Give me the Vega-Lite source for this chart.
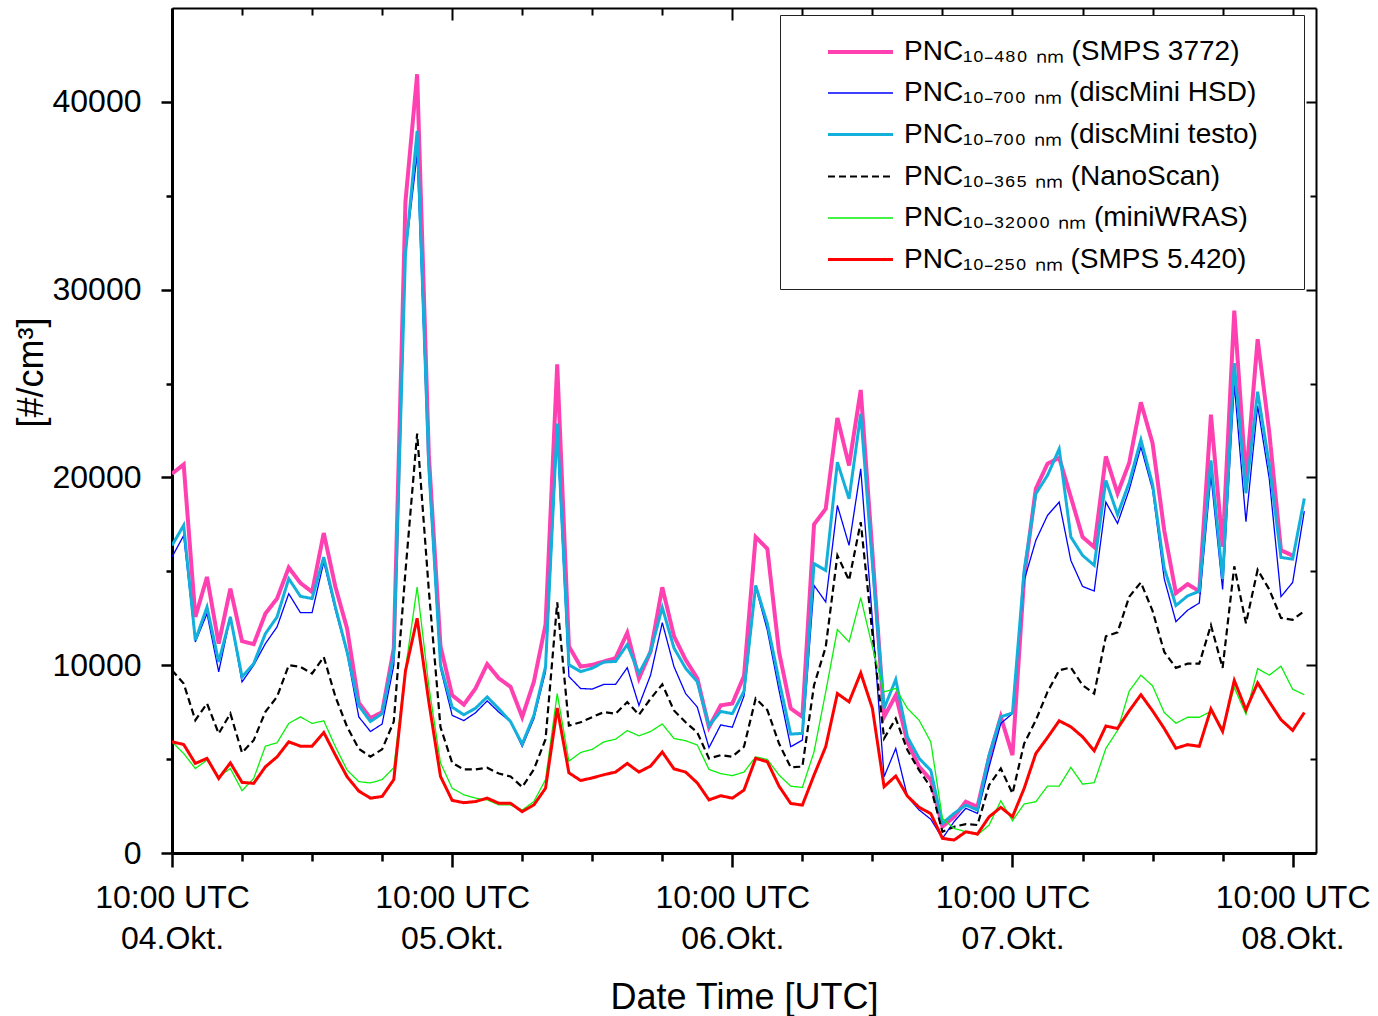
{
  "$schema": "https://vega.github.io/schema/vega-lite/v6.json",
  "width": 1144,
  "height": 845,
  "autosize": {"type": "none"},
  "padding": {"left": 172, "top": 8, "right": 62, "bottom": 163},
  "background": "white",
  "config": {
    "font": "Liberation Sans",
    "view": {"stroke": null},
    "axis": {
      "labelFont": "Liberation Sans",
      "labelFontSize": 32,
      "labelColor": "black",
      "titleFont": "Liberation Sans",
      "titleFontSize": 36,
      "titleFontWeight": "normal",
      "titleColor": "black",
      "domainColor": "black",
      "tickColor": "black",
      "grid": false,
      "labelOverlap": false,
      "labelFlush": false,
      "labelBound": false
    },
    "legend": {
      "orient": "none",
      "legendX": 608,
      "legendY": 7,
      "title": null,
      "symbolType": "M-1.625,0L1.625,0",
      "symbolSize": 1600,
      "labelFont": "Liberation Sans",
      "labelFontSize": 28,
      "labelColor": "black",
      "labelLimit": 700,
      "strokeColor": "#222222",
      "fillColor": "white",
      "padding": 15,
      "symbolOffset": 43.5,
      "labelOffset": 21.5,
      "rowPadding": 6
    }
  },
  "data": {
    "values": [
      {"t": "2019-10-04T10:00:00Z", "smps3772": 20200, "hsd": 15760, "testo": 16380, "nano": 9730, "wras": 5920, "smps5420": 5920},
      {"t": "2019-10-04T11:00:00Z", "smps3772": 20690, "hsd": 16910, "testo": 17450, "nano": 9020, "wras": 5300, "smps5420": 5780},
      {"t": "2019-10-04T12:00:00Z", "smps3772": 12570, "hsd": 11240, "testo": 11330, "nano": 7070, "wras": 4500, "smps5420": 4770},
      {"t": "2019-10-04T13:00:00Z", "smps3772": 14700, "hsd": 12750, "testo": 13100, "nano": 7960, "wras": 4950, "smps5420": 5040},
      {"t": "2019-10-04T14:00:00Z", "smps3772": 11150, "hsd": 9650, "testo": 10180, "nano": 6360, "wras": 4060, "smps5420": 3970},
      {"t": "2019-10-04T15:00:00Z", "smps3772": 14080, "hsd": 12570, "testo": 12570, "nano": 7430, "wras": 4500, "smps5420": 4800},
      {"t": "2019-10-04T16:00:00Z", "smps3772": 11280, "hsd": 9110, "testo": 9380, "nano": 5340, "wras": 3320, "smps5420": 3760},
      {"t": "2019-10-04T17:00:00Z", "smps3772": 11120, "hsd": 10000, "testo": 10090, "nano": 6010, "wras": 3970, "smps5420": 3710},
      {"t": "2019-10-04T18:00:00Z", "smps3772": 12750, "hsd": 11150, "testo": 11680, "nano": 7520, "wras": 5690, "smps5420": 4590},
      {"t": "2019-10-04T19:00:00Z", "smps3772": 13550, "hsd": 12040, "testo": 12570, "nano": 8320, "wras": 5870, "smps5420": 5120},
      {"t": "2019-10-04T20:00:00Z", "smps3772": 15200, "hsd": 13810, "testo": 14610, "nano": 10000, "wras": 6900, "smps5420": 5920},
      {"t": "2019-10-04T21:00:00Z", "smps3772": 14380, "hsd": 12800, "testo": 13670, "nano": 9910, "wras": 7250, "smps5420": 5690},
      {"t": "2019-10-04T22:00:00Z", "smps3772": 13900, "hsd": 12800, "testo": 13550, "nano": 9560, "wras": 6900, "smps5420": 5690},
      {"t": "2019-10-04T23:00:00Z", "smps3772": 17040, "hsd": 15500, "testo": 15760, "nano": 10440, "wras": 7040, "smps5420": 6420},
      {"t": "2019-10-05T00:00:00Z", "smps3772": 14170, "hsd": 12930, "testo": 13100, "nano": 8320, "wras": 5660, "smps5420": 5210},
      {"t": "2019-10-05T01:00:00Z", "smps3772": 11950, "hsd": 10620, "testo": 10710, "nano": 6720, "wras": 4420, "smps5420": 4060},
      {"t": "2019-10-05T02:00:00Z", "smps3772": 8000, "hsd": 7250, "testo": 7850, "nano": 5550, "wras": 3800, "smps5420": 3300},
      {"t": "2019-10-05T03:00:00Z", "smps3772": 7180, "hsd": 6470, "testo": 7000, "nano": 5130, "wras": 3730, "smps5420": 2920},
      {"t": "2019-10-05T04:00:00Z", "smps3772": 7500, "hsd": 6870, "testo": 7420, "nano": 5520, "wras": 3910, "smps5420": 3010},
      {"t": "2019-10-05T05:00:00Z", "smps3772": 10900, "hsd": 10000, "testo": 10600, "nano": 7000, "wras": 4540, "smps5420": 3910},
      {"t": "2019-10-05T06:00:00Z", "smps3772": 34700, "hsd": 31900, "testo": 31900, "nano": 15000, "wras": 9800, "smps5420": 9700},
      {"t": "2019-10-05T07:00:00Z", "smps3772": 41470, "hsd": 37230, "testo": 38460, "nano": 22340, "wras": 14160, "smps5420": 12500},
      {"t": "2019-10-05T08:00:00Z", "smps3772": 21200, "hsd": 20300, "testo": 20600, "nano": 14000, "wras": 8900, "smps5420": 8050},
      {"t": "2019-10-05T09:00:00Z", "smps3772": 11010, "hsd": 9840, "testo": 10020, "nano": 6700, "wras": 4800, "smps5420": 4080},
      {"t": "2019-10-05T10:00:00Z", "smps3772": 8400, "hsd": 7330, "testo": 7770, "nano": 4800, "wras": 3450, "smps5420": 2800},
      {"t": "2019-10-05T11:00:00Z", "smps3772": 7900, "hsd": 7050, "testo": 7360, "nano": 4450, "wras": 3100, "smps5420": 2680},
      {"t": "2019-10-05T12:00:00Z", "smps3772": 8760, "hsd": 7470, "testo": 7710, "nano": 4450, "wras": 2920, "smps5420": 2740},
      {"t": "2019-10-05T13:00:00Z", "smps3772": 10060, "hsd": 8100, "testo": 8310, "nano": 4540, "wras": 2830, "smps5420": 2920},
      {"t": "2019-10-05T14:00:00Z", "smps3772": 9300, "hsd": 7500, "testo": 7680, "nano": 4230, "wras": 2560, "smps5420": 2650},
      {"t": "2019-10-05T15:00:00Z", "smps3772": 8850, "hsd": 7000, "testo": 7000, "nano": 4080, "wras": 2560, "smps5420": 2650},
      {"t": "2019-10-05T16:00:00Z", "smps3772": 7240, "hsd": 5670, "testo": 5800, "nano": 3510, "wras": 2290, "smps5420": 2200},
      {"t": "2019-10-05T17:00:00Z", "smps3772": 9120, "hsd": 7150, "testo": 7330, "nano": 4450, "wras": 2740, "smps5420": 2560},
      {"t": "2019-10-05T18:00:00Z", "smps3772": 12170, "hsd": 9660, "testo": 9930, "nano": 6060, "wras": 3910, "smps5420": 3450},
      {"t": "2019-10-05T19:00:00Z", "smps3772": 26020, "hsd": 22400, "testo": 22870, "nano": 13350, "wras": 8490, "smps5420": 7720},
      {"t": "2019-10-05T20:00:00Z", "smps3772": 11010, "hsd": 9400, "testo": 10020, "nano": 6780, "wras": 4890, "smps5420": 4270},
      {"t": "2019-10-05T21:00:00Z", "smps3772": 9930, "hsd": 8760, "testo": 9660, "nano": 6960, "wras": 5350, "smps5420": 3860},
      {"t": "2019-10-05T22:00:00Z", "smps3772": 10020, "hsd": 8730, "testo": 9840, "nano": 7240, "wras": 5520, "smps5420": 4000},
      {"t": "2019-10-05T23:00:00Z", "smps3772": 10200, "hsd": 8980, "testo": 10170, "nano": 7500, "wras": 5920, "smps5420": 4170},
      {"t": "2019-10-06T00:00:00Z", "smps3772": 10380, "hsd": 8980, "testo": 10200, "nano": 7420, "wras": 6060, "smps5420": 4310},
      {"t": "2019-10-06T01:00:00Z", "smps3772": 11730, "hsd": 9870, "testo": 11100, "nano": 8040, "wras": 6520, "smps5420": 4770},
      {"t": "2019-10-06T02:00:00Z", "smps3772": 9300, "hsd": 7860, "testo": 9570, "nano": 7360, "wras": 6240, "smps5420": 4310},
      {"t": "2019-10-06T03:00:00Z", "smps3772": 10730, "hsd": 9480, "testo": 10730, "nano": 8220, "wras": 6470, "smps5420": 4630},
      {"t": "2019-10-06T04:00:00Z", "smps3772": 14150, "hsd": 12270, "testo": 13080, "nano": 8980, "wras": 6870, "smps5420": 5380},
      {"t": "2019-10-06T05:00:00Z", "smps3772": 11550, "hsd": 9930, "testo": 10920, "nano": 7590, "wras": 6100, "smps5420": 4480},
      {"t": "2019-10-06T06:00:00Z", "smps3772": 10290, "hsd": 8490, "testo": 9840, "nano": 6960, "wras": 5980, "smps5420": 4310},
      {"t": "2019-10-06T07:00:00Z", "smps3772": 9300, "hsd": 7770, "testo": 9120, "nano": 6420, "wras": 5750, "smps5420": 3730},
      {"t": "2019-10-06T08:00:00Z", "smps3772": 6700, "hsd": 5610, "testo": 6780, "nano": 5030, "wras": 4450, "smps5420": 2830},
      {"t": "2019-10-06T09:00:00Z", "smps3772": 7860, "hsd": 6820, "testo": 7540, "nano": 5210, "wras": 4230, "smps5420": 3050},
      {"t": "2019-10-06T10:00:00Z", "smps3772": 7960, "hsd": 6700, "testo": 7420, "nano": 5130, "wras": 4120, "smps5420": 2920},
      {"t": "2019-10-06T11:00:00Z", "smps3772": 9430, "hsd": 8360, "testo": 8620, "nano": 5660, "wras": 4310, "smps5420": 3350},
      {"t": "2019-10-06T12:00:00Z", "smps3772": 16830, "hsd": 14170, "testo": 14250, "nano": 8230, "wras": 5120, "smps5420": 5040},
      {"t": "2019-10-06T13:00:00Z", "smps3772": 16200, "hsd": 11860, "testo": 12220, "nano": 7610, "wras": 4980, "smps5420": 4860},
      {"t": "2019-10-06T14:00:00Z", "smps3772": 10710, "hsd": 8670, "testo": 9200, "nano": 5830, "wras": 4150, "smps5420": 3560},
      {"t": "2019-10-06T15:00:00Z", "smps3772": 7700, "hsd": 5660, "testo": 6330, "nano": 4560, "wras": 3560, "smps5420": 2640},
      {"t": "2019-10-06T16:00:00Z", "smps3772": 7250, "hsd": 6010, "testo": 6370, "nano": 4600, "wras": 3490, "smps5420": 2550},
      {"t": "2019-10-06T17:00:00Z", "smps3772": 17500, "hsd": 14250, "testo": 15410, "nano": 8940, "wras": 5390, "smps5420": 4150},
      {"t": "2019-10-06T18:00:00Z", "smps3772": 18330, "hsd": 13370, "testo": 15050, "nano": 10970, "wras": 8580, "smps5420": 5660},
      {"t": "2019-10-06T19:00:00Z", "smps3772": 23170, "hsd": 18510, "testo": 20810, "nano": 15850, "wras": 11900, "smps5420": 8490},
      {"t": "2019-10-06T20:00:00Z", "smps3772": 20640, "hsd": 16380, "testo": 18860, "nano": 14520, "wras": 11240, "smps5420": 8050},
      {"t": "2019-10-06T21:00:00Z", "smps3772": 24660, "hsd": 20460, "testo": 23390, "nano": 17620, "wras": 13600, "smps5420": 9590},
      {"t": "2019-10-06T22:00:00Z", "smps3772": 16000, "hsd": 12400, "testo": 15400, "nano": 11700, "wras": 10970, "smps5420": 7700},
      {"t": "2019-10-06T23:00:00Z", "smps3772": 7250, "hsd": 4060, "testo": 7700, "nano": 6100, "wras": 8580, "smps5420": 3530},
      {"t": "2019-10-07T00:00:00Z", "smps3772": 8400, "hsd": 5570, "testo": 9240, "nano": 7160, "wras": 8760, "smps5420": 4100},
      {"t": "2019-10-07T01:00:00Z", "smps3772": 5920, "hsd": 3000, "testo": 6190, "nano": 5480, "wras": 7700, "smps5420": 3030},
      {"t": "2019-10-07T02:00:00Z", "smps3772": 4590, "hsd": 2290, "testo": 5040, "nano": 4410, "wras": 7070, "smps5420": 2430},
      {"t": "2019-10-07T03:00:00Z", "smps3772": 3900, "hsd": 1800, "testo": 4400, "nano": 3500, "wras": 5920, "smps5420": 2100},
      {"t": "2019-10-07T04:00:00Z", "smps3772": 1400, "hsd": 780, "testo": 1580, "nano": 1130, "wras": 1840, "smps5420": 780},
      {"t": "2019-10-07T05:00:00Z", "smps3772": 1930, "hsd": 1670, "testo": 2110, "nano": 1400, "wras": 1310, "smps5420": 690},
      {"t": "2019-10-07T06:00:00Z", "smps3772": 2730, "hsd": 2380, "testo": 2550, "nano": 1540, "wras": 1130, "smps5420": 1130},
      {"t": "2019-10-07T07:00:00Z", "smps3772": 2460, "hsd": 2110, "testo": 2290, "nano": 1490, "wras": 960, "smps5420": 1010},
      {"t": "2019-10-07T08:00:00Z", "smps3772": 5120, "hsd": 4590, "testo": 5210, "nano": 3620, "wras": 1490, "smps5420": 1930},
      {"t": "2019-10-07T09:00:00Z", "smps3772": 7250, "hsd": 6900, "testo": 7250, "nano": 4500, "wras": 2780, "smps5420": 2430},
      {"t": "2019-10-07T10:00:00Z", "smps3772": 5210, "hsd": 7430, "testo": 7460, "nano": 3170, "wras": 1720, "smps5420": 1930},
      {"t": "2019-10-07T11:00:00Z", "smps3772": 14700, "hsd": 14520, "testo": 15050, "nano": 5830, "wras": 2610, "smps5420": 3440},
      {"t": "2019-10-07T12:00:00Z", "smps3772": 19400, "hsd": 16650, "testo": 19130, "nano": 7070, "wras": 2730, "smps5420": 5300},
      {"t": "2019-10-07T13:00:00Z", "smps3772": 20730, "hsd": 17980, "testo": 20110, "nano": 8580, "wras": 3560, "smps5420": 6150},
      {"t": "2019-10-07T14:00:00Z", "smps3772": 21050, "hsd": 18690, "testo": 21520, "nano": 9730, "wras": 3560, "smps5420": 7040},
      {"t": "2019-10-07T15:00:00Z", "smps3772": 18950, "hsd": 15580, "testo": 16830, "nano": 9880, "wras": 4560, "smps5420": 6720},
      {"t": "2019-10-07T16:00:00Z", "smps3772": 16830, "hsd": 14200, "testo": 15850, "nano": 8940, "wras": 3670, "smps5420": 6190},
      {"t": "2019-10-07T17:00:00Z", "smps3772": 16290, "hsd": 13950, "testo": 15320, "nano": 8490, "wras": 3740, "smps5420": 5440},
      {"t": "2019-10-07T18:00:00Z", "smps3772": 21120, "hsd": 18690, "testo": 19840, "nano": 11540, "wras": 5570, "smps5420": 6760},
      {"t": "2019-10-07T19:00:00Z", "smps3772": 19150, "hsd": 17550, "testo": 18020, "nano": 11750, "wras": 6530, "smps5420": 6630},
      {"t": "2019-10-07T20:00:00Z", "smps3772": 20780, "hsd": 19350, "testo": 19730, "nano": 13650, "wras": 8620, "smps5420": 7570},
      {"t": "2019-10-07T21:00:00Z", "smps3772": 24000, "hsd": 21630, "testo": 22010, "nano": 14410, "wras": 9470, "smps5420": 8430},
      {"t": "2019-10-07T22:00:00Z", "smps3772": 21820, "hsd": 19350, "testo": 19630, "nano": 12890, "wras": 8900, "smps5420": 7570},
      {"t": "2019-10-07T23:00:00Z", "smps3772": 17170, "hsd": 14600, "testo": 15170, "nano": 10710, "wras": 7480, "smps5420": 6630},
      {"t": "2019-10-08T00:00:00Z", "smps3772": 13840, "hsd": 12320, "testo": 13180, "nano": 9860, "wras": 6910, "smps5420": 5580},
      {"t": "2019-10-08T01:00:00Z", "smps3772": 14320, "hsd": 12930, "testo": 13690, "nano": 10080, "wras": 7230, "smps5420": 5770},
      {"t": "2019-10-08T02:00:00Z", "smps3772": 13940, "hsd": 13310, "testo": 13940, "nano": 10080, "wras": 7230, "smps5420": 5680},
      {"t": "2019-10-08T03:00:00Z", "smps3772": 23340, "hsd": 20110, "testo": 20910, "nano": 12130, "wras": 7540, "smps5420": 7670},
      {"t": "2019-10-08T04:00:00Z", "smps3772": 16310, "hsd": 14030, "testo": 14600, "nano": 9860, "wras": 6630, "smps5420": 6470},
      {"t": "2019-10-08T05:00:00Z", "smps3772": 28880, "hsd": 24950, "testo": 26090, "nano": 15270, "wras": 8810, "smps5420": 9190},
      {"t": "2019-10-08T06:00:00Z", "smps3772": 19920, "hsd": 17640, "testo": 19160, "nano": 12230, "wras": 7390, "smps5420": 7620},
      {"t": "2019-10-08T07:00:00Z", "smps3772": 27360, "hsd": 23810, "testo": 24570, "nano": 15080, "wras": 9820, "smps5420": 9060},
      {"t": "2019-10-08T08:00:00Z", "smps3772": 22390, "hsd": 19920, "testo": 20680, "nano": 14030, "wras": 9470, "smps5420": 8050},
      {"t": "2019-10-08T09:00:00Z", "smps3772": 16120, "hsd": 13650, "testo": 15740, "nano": 12520, "wras": 9950, "smps5420": 7100},
      {"t": "2019-10-08T10:00:00Z", "smps3772": 15840, "hsd": 14410, "testo": 15650, "nano": 12420, "wras": 8720, "smps5420": 6530},
      {"t": "2019-10-08T11:00:00Z", "smps3772": null, "hsd": 18210, "testo": 18880, "nano": 12890, "wras": 8430, "smps5420": 7480}
    ]
  },
  "transform": [
    {"fold": ["smps3772", "hsd", "testo", "nano", "wras", "smps5420"], "as": ["series", "pnc"]}
  ],
  "resolve": {"axis": {"x": "independent", "y": "independent"}},
  "layer": [
    {
      "mark": {"type": "line", "clip": true},
      "encoding": {
        "x": {
          "field": "t",
          "type": "temporal",
          "scale": {
            "type": "utc",
            "domain": [
              {"year": 2019, "month": 10, "date": 4, "hours": 10, "utc": true},
              {"year": 2019, "month": 10, "date": 8, "hours": 12, "utc": true}
            ]
          },
          "axis": {
            "title": "Date Time [UTC]",
            "titleY": 155,
            "titleBaseline": "alphabetic",
            "domainWidth": 3,
            "tickWidth": 2.5,
            "tickSize": {"condition": {"test": "utchours(datum.value) == 10", "value": 14}, "value": 8},
            "labelPadding": 15,
            "labelBaseline": "top",
            "labelLineHeight": 41,
            "values": [
              {"year": 2019, "month": 10, "date": 4, "hours": 10, "utc": true},
              {"year": 2019, "month": 10, "date": 4, "hours": 16, "utc": true},
              {"year": 2019, "month": 10, "date": 4, "hours": 22, "utc": true},
              {"year": 2019, "month": 10, "date": 5, "hours": 4, "utc": true},
              {"year": 2019, "month": 10, "date": 5, "hours": 10, "utc": true},
              {"year": 2019, "month": 10, "date": 5, "hours": 16, "utc": true},
              {"year": 2019, "month": 10, "date": 5, "hours": 22, "utc": true},
              {"year": 2019, "month": 10, "date": 6, "hours": 4, "utc": true},
              {"year": 2019, "month": 10, "date": 6, "hours": 10, "utc": true},
              {"year": 2019, "month": 10, "date": 6, "hours": 16, "utc": true},
              {"year": 2019, "month": 10, "date": 6, "hours": 22, "utc": true},
              {"year": 2019, "month": 10, "date": 7, "hours": 4, "utc": true},
              {"year": 2019, "month": 10, "date": 7, "hours": 10, "utc": true},
              {"year": 2019, "month": 10, "date": 7, "hours": 16, "utc": true},
              {"year": 2019, "month": 10, "date": 7, "hours": 22, "utc": true},
              {"year": 2019, "month": 10, "date": 8, "hours": 4, "utc": true},
              {"year": 2019, "month": 10, "date": 8, "hours": 10, "utc": true}
            ],
            "labelExpr": "utchours(datum.value) == 10 ? ['10:00 UTC', utcFormat(datum.value, '%d') + '.Okt.'] : ''"
          }
        },
        "y": {
          "field": "pnc",
          "type": "quantitative",
          "scale": {"domain": [0, 45000], "nice": false, "zero": true},
          "axis": {
            "title": "[#/cm³]",
            "titleX": -141,
            "titleY": 364,
            "titleAngle": -90,
            "titleAlign": "center",
            "titleBaseline": "middle",
            "domainWidth": 3,
            "tickWidth": 2.5,
            "tickSize": {"condition": {"test": "datum.value % 10000 == 0", "value": 11}, "value": 6},
            "labelPadding": 20,
            "format": "d",
            "values": [0, 5000, 10000, 15000, 20000, 25000, 30000, 35000, 40000],
            "labelExpr": "datum.value % 10000 == 0 ? datum.label : ''"
          }
        },
        "color": {
          "field": "series",
          "type": "nominal",
          "scale": {
            "domain": ["smps3772", "hsd", "testo", "nano", "wras", "smps5420"],
            "range": ["#FF40B0", "#0000FF", "#12B0DA", "#000000", "#0BF00B", "#FF0000"]
          },
          "legend": {
            "labelExpr": "(datum.value == 'smps3772' ? 'PNC₁₀₋₄₈₀ ₙₘ (SMPS 3772)' : datum.value == 'hsd' ? 'PNC₁₀₋₇₀₀ ₙₘ (discMini HSD)' : datum.value == 'testo' ? 'PNC₁₀₋₇₀₀ ₙₘ (discMini testo)' : datum.value == 'nano' ? 'PNC₁₀₋₃₆₅ ₙₘ (NanoScan)' : datum.value == 'wras' ? 'PNC₁₀₋₃₂₀₀₀ ₙₘ (miniWRAS)' : 'PNC₁₀₋₂₅₀ ₙₘ (SMPS 5.420)') + '\u00a0\u00a0\u00a0\u00a0\u200b'"
          }
        },
        "strokeDash": {
          "field": "series",
          "type": "nominal",
          "scale": {
            "domain": ["smps3772", "hsd", "testo", "nano", "wras", "smps5420"],
            "range": [[1, 0], [1, 0], [1, 0], [7, 4], [1, 0], [1, 0]]
          },
          "legend": {
            "labelExpr": "(datum.value == 'smps3772' ? 'PNC₁₀₋₄₈₀ ₙₘ (SMPS 3772)' : datum.value == 'hsd' ? 'PNC₁₀₋₇₀₀ ₙₘ (discMini HSD)' : datum.value == 'testo' ? 'PNC₁₀₋₇₀₀ ₙₘ (discMini testo)' : datum.value == 'nano' ? 'PNC₁₀₋₃₆₅ ₙₘ (NanoScan)' : datum.value == 'wras' ? 'PNC₁₀₋₃₂₀₀₀ ₙₘ (miniWRAS)' : 'PNC₁₀₋₂₅₀ ₙₘ (SMPS 5.420)') + '\u00a0\u00a0\u00a0\u00a0\u200b'"
          }
        },
        "strokeWidth": {
          "field": "series",
          "type": "nominal",
          "scale": {
            "type": "ordinal",
            "domain": ["smps3772", "hsd", "testo", "nano", "wras", "smps5420"],
            "range": [4, 1.3, 3, 2.2, 1.3, 3]
          },
          "legend": {
            "labelExpr": "(datum.value == 'smps3772' ? 'PNC₁₀₋₄₈₀ ₙₘ (SMPS 3772)' : datum.value == 'hsd' ? 'PNC₁₀₋₇₀₀ ₙₘ (discMini HSD)' : datum.value == 'testo' ? 'PNC₁₀₋₇₀₀ ₙₘ (discMini testo)' : datum.value == 'nano' ? 'PNC₁₀₋₃₆₅ ₙₘ (NanoScan)' : datum.value == 'wras' ? 'PNC₁₀₋₃₂₀₀₀ ₙₘ (miniWRAS)' : 'PNC₁₀₋₂₅₀ ₙₘ (SMPS 5.420)') + '\u00a0\u00a0\u00a0\u00a0\u200b'"
          }
        }
      }
    },
    {
      "mark": {"type": "point", "opacity": 0},
      "encoding": {
        "x": {
          "field": "t",
          "type": "temporal",
          "axis": {
            "orient": "top",
            "title": null,
            "labels": false,
            "domainWidth": 2,
            "tickWidth": 2,
            "tickSize": {"condition": {"test": "utchours(datum.value) == 10", "value": -12}, "value": -7},
            "values": [
              {"year": 2019, "month": 10, "date": 4, "hours": 10, "utc": true},
              {"year": 2019, "month": 10, "date": 4, "hours": 16, "utc": true},
              {"year": 2019, "month": 10, "date": 4, "hours": 22, "utc": true},
              {"year": 2019, "month": 10, "date": 5, "hours": 4, "utc": true},
              {"year": 2019, "month": 10, "date": 5, "hours": 10, "utc": true},
              {"year": 2019, "month": 10, "date": 5, "hours": 16, "utc": true},
              {"year": 2019, "month": 10, "date": 5, "hours": 22, "utc": true},
              {"year": 2019, "month": 10, "date": 6, "hours": 4, "utc": true},
              {"year": 2019, "month": 10, "date": 6, "hours": 10, "utc": true},
              {"year": 2019, "month": 10, "date": 6, "hours": 16, "utc": true},
              {"year": 2019, "month": 10, "date": 6, "hours": 22, "utc": true},
              {"year": 2019, "month": 10, "date": 7, "hours": 4, "utc": true},
              {"year": 2019, "month": 10, "date": 7, "hours": 10, "utc": true},
              {"year": 2019, "month": 10, "date": 7, "hours": 16, "utc": true},
              {"year": 2019, "month": 10, "date": 7, "hours": 22, "utc": true},
              {"year": 2019, "month": 10, "date": 8, "hours": 4, "utc": true},
              {"year": 2019, "month": 10, "date": 8, "hours": 10, "utc": true}
            ]
          }
        },
        "y": {
          "field": "pnc",
          "type": "quantitative",
          "axis": {
            "orient": "right",
            "title": null,
            "labels": false,
            "domainWidth": 2,
            "tickWidth": 2,
            "tickSize": {"condition": {"test": "datum.value % 10000 == 0", "value": -10}, "value": -6},
            "values": [0, 5000, 10000, 15000, 20000, 25000, 30000, 35000, 40000]
          }
        }
      }
    }
  ]
}
